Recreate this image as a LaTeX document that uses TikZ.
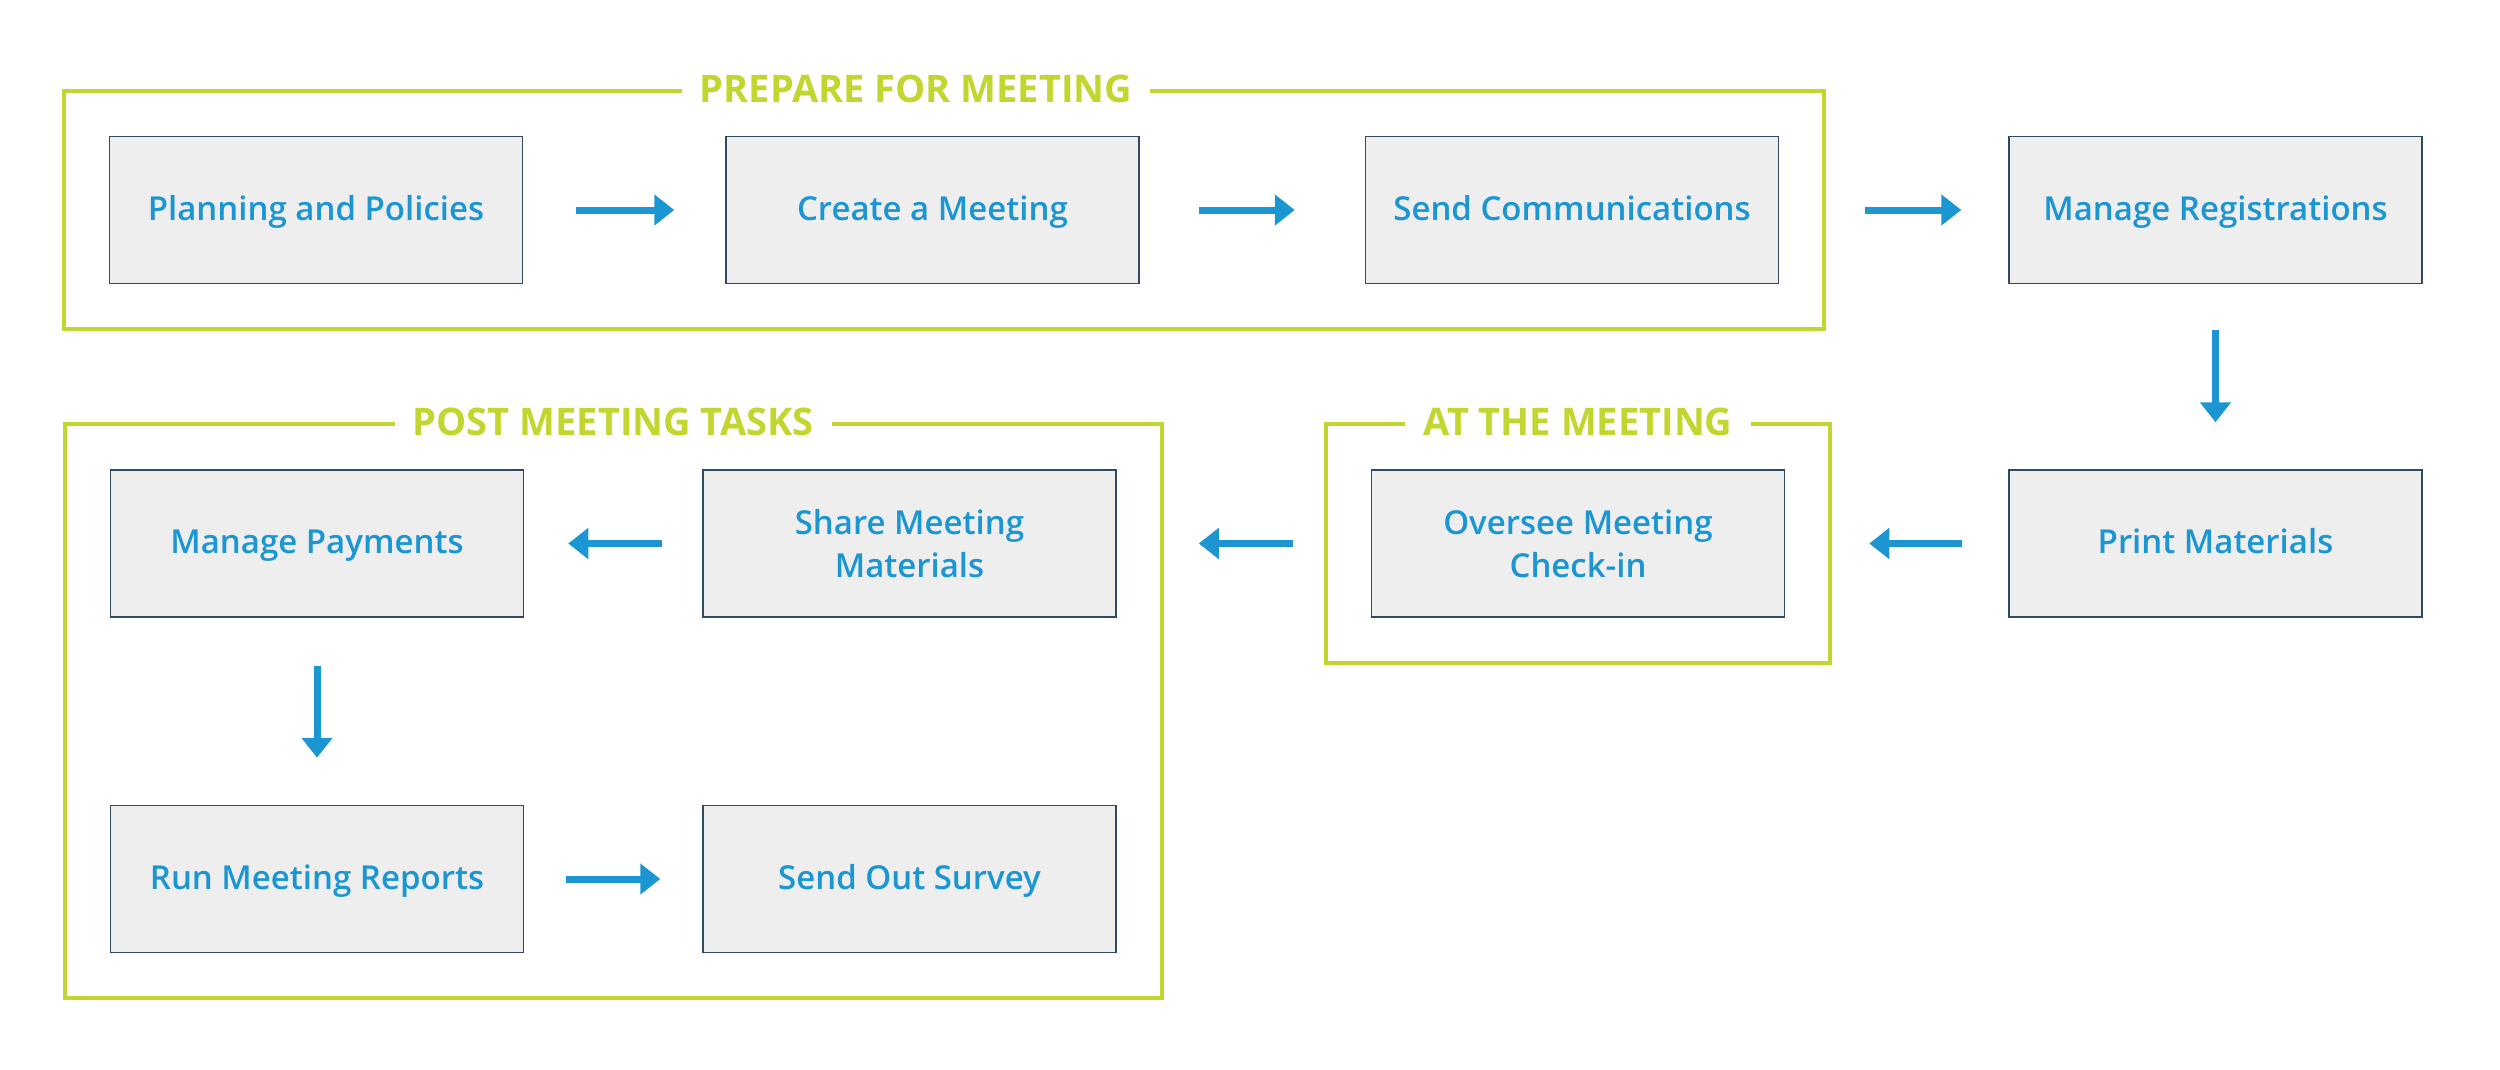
\documentclass[tikz,border=0pt]{standalone}
\usepackage{fontspec}
\setmainfont{Open Sans}
\newfontfamily\semifont{Open Sans}[UprightFont={* Semibold}]
\usepackage{xcolor}
\definecolor{stepBlue}{HTML}{1B96D3}
\definecolor{phaseLime}{HTML}{C3D62F}
\definecolor{boxLine}{HTML}{2F4A62}
\definecolor{boxFill}{HTML}{EEEEEE}
\usepackage{tikz}
\usetikzlibrary{
    arrows.meta,
    positioning,
    fit
}
\tikzset{
    % Task boxes - grey fill, thin dark outline
    task/.style={
        rectangle,
        draw=boxLine,
        line width=1.5pt,
        fill=boxFill,
        minimum width=413pt,
        minimum height=147pt,
        inner sep=0pt,
        align=center,
        text=stepBlue,
        text height=32pt,
        text depth=12pt,
        font=\semifont\fontsize{33}{43}\selectfont,
    },
    % Two-line task boxes - natural text size
    task two/.style={
        task,
        text height={},
        text depth={},
    },
    % Phase frames - lime outline round a group of tasks
    phase/.style={
        rectangle,
        draw=phaseLime,
        line width=4pt,
        inner sep=45pt,
    },
    % Phase titles - sit on the top edge of a frame
    phase title/.style={
        fill=white,
        text=phaseLime,
        inner xsep=18pt,
        font=\bfseries\fontsize{38}{44}\selectfont,
    },
    % Short thick arrows between tasks
    flow/.style 2 args={
        -{Triangle[length=20pt, width=30pt]},
        line width=7pt,
        draw=stepBlue,
        shorten <=#1,
        shorten >=#2,
    },
}

\begin{document}
\begin{tikzpicture}[x=1pt, y=-1pt]
    \useasboundingbox (0,0) rectangle (2500,1069);

    \node (plan) [task] at (316,210) {Planning and Policies};
    \node (create) [task, right=202pt of plan] {Create a Meeting};
    \node (send) [task, right=225pt of create] {Send Communications};
    \node (register) [task, right=229pt of send] {Manage Registrations};
    \node (print) [task, below=185pt of register] {Print Materials};
    \node (checkin) [task two, left=223pt of print] {Oversee Meeting\\Check-in};
    \node (share) [task two, left=254pt of checkin] {Share Meeting\\Materials};
    \node (payments) [task, left=178pt of share] {Manage Payments};
    \node (reports) [task, below=187pt of payments] {Run Meeting Reports};
    \node (survey) [task, right=178pt of reports] {Send Out Survey};

    % phase frames
    \node (prepare) [phase, fit=(plan)(send)] {};
    \node [phase title, xshift=-28pt] at (prepare.north) {PREPARE FOR MEETING};
    \node (post) [phase, fit=(payments)(survey)] {};
    \node [phase title] at (post.north) {POST MEETING TASKS};
    \node (atmeeting) [phase, fit=(checkin)] {};
    \node [phase title] at (atmeeting.north) {AT THE MEETING};

    \draw [flow={53pt}{51pt}] (plan) -- (create);
    \draw [flow={59pt}{70pt}] (create) -- (send);
    \draw [flow={86pt}{47pt}] (send) -- (register);
    \draw [flow={46pt}{47pt}] (register) -- (print);
    \draw [flow={46pt}{84pt}] (print) -- (checkin);
    \draw [flow={78pt}{82pt}] (checkin) -- (share);
    \draw [flow={40pt}{44pt}] (share) -- (payments);
    \draw [flow={48pt}{47pt}] (payments) -- (reports);
    \draw [flow={42pt}{42pt}] (reports) -- (survey);
\end{tikzpicture}
\end{document}
